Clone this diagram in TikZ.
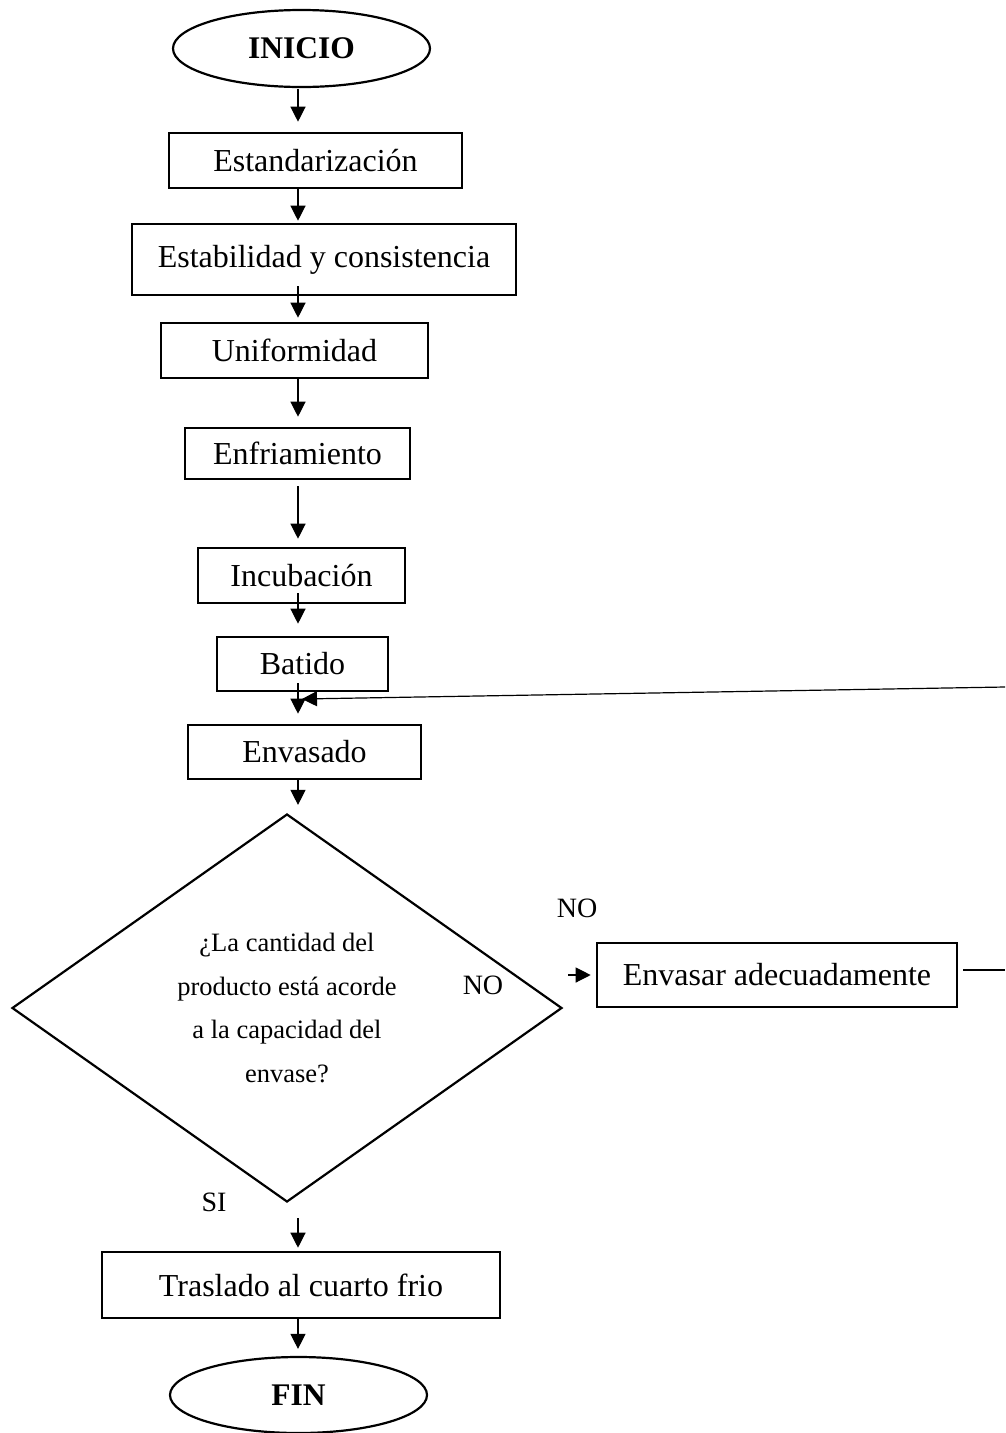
\documentclass[tikz,border=0pt]{standalone}
\usepackage{fontspec}
\setmainfont{Liberation Serif}
\usetikzlibrary{arrows.meta,shapes.geometric}

\tikzset{
  procbox/.style={draw, line width=2.6pt, inner sep=0pt,
    font=\fontsize{32}{38}\selectfont},
  termnode/.style={ellipse, draw, line width=2.2pt, inner sep=0pt,
    font=\fontsize{31.5}{37}\selectfont\bfseries},
  decision/.style={diamond, draw, line width=2.2pt, inner sep=0pt,
    shape aspect=1.42, align=center,
    font=\fontsize{26.5}{43.5}\selectfont},
  lbl/.style={inner sep=0pt, font=\fontsize{28}{33}\selectfont},
  flow/.style={line width=1.2pt, -{Triangle[width=15pt,length=15pt]}},
  plain/.style={line width=1.2pt}
}

\begin{document}
\begin{tikzpicture}[x=1pt, y=-1pt]
  % page frame
  \fill[white] (0,0) rectangle (1005,1433);
  \useasboundingbox (0,0) rectangle (1005,1433);

  % main column
  \node[termnode, minimum width=257pt, minimum height=77pt] (inicio) at (301.5,48.5) {INICIO};
  \node[procbox, minimum width=293pt, minimum height=55pt] (estand) at (315.5,160.5) {Estandarización};
  \node[procbox, minimum width=384pt, minimum height=71pt] (estab) at (324,259.5) {Estabilidad y consistencia};
  \node[procbox, minimum width=267pt, minimum height=55pt] (unif) at (294.5,350.5) {Uniformidad};
  \node[procbox, minimum width=225pt, minimum height=51pt] (enfr) at (297.5,453.5) {Enfriamiento};
  \node[procbox, minimum width=207pt, minimum height=55pt] (incub) at (301.5,575.5) {Incubación};
  \node[procbox, minimum width=171pt, minimum height=54pt] (batido) at (302.5,664) {Batido};
  \node[procbox, minimum width=233pt, minimum height=54pt] (envas) at (304.5,752) {Envasado};
  \node[decision, minimum width=550pt, minimum height=388pt] (dec) at (287,1008)
    {¿La cantidad del\\producto está acorde\\a la capacidad del\\envase?};
  \node[procbox, minimum width=360pt, minimum height=64pt] (envasar) at (777,975) {Envasar adecuadamente};
  \node[procbox, minimum width=398pt, minimum height=66pt] (trasl) at (301,1285) {Traslado al cuarto frio};
  \node[termnode, minimum width=257pt, minimum height=76pt] (fin) at (298.5,1395) {FIN};

  % branch labels
  \node[lbl] (noIn) at (483,985) {NO};
  \node[lbl] (noUp) at (577,908) {NO};
  \node[lbl] (si) at (214,1202) {SI};

  % column axis for the vertical connectors
  \coordinate (ax) at (298,0);

  \draw[flow, shorten <=1pt, shorten >=10pt] (inicio.south -| ax) -- (estand.north -| ax);
  \draw[flow, shorten <=0pt, shorten >=2pt] (estand.south -| ax) -- (estab.north -| ax);
  \draw[flow, shorten <=-10pt, shorten >=4pt] (estab.south -| ax) -- (unif.north -| ax);
  \draw[flow, shorten <=0pt, shorten >=10pt] (unif.south -| ax) -- (enfr.north -| ax);
  \draw[flow, shorten <=6pt, shorten >=8pt] (enfr.south -| ax) -- (incub.north -| ax);
  \draw[flow, shorten <=-11pt, shorten >=12pt] (incub.south -| ax) -- (batido.north -| ax);
  \draw[flow, shorten <=-9pt, shorten >=10pt] (batido.south -| ax) -- (envas.north -| ax);
  \draw[flow, shorten <=0pt, shorten >=8pt] (envas.south -| ax) -- (dec.north -| ax);
  \draw[flow, shorten <=15pt, shorten >=3pt] (dec.south -| ax) -- (trasl.north -| ax);
  \draw[flow, shorten <=-1pt, shorten >=7pt] (trasl.south -| ax) -- (fin.north -| ax);

  % NO branch and return line
  \coordinate (noStart) at (568,975);
  \draw[flow, shorten >=5pt] (noStart) -- (envasar.west);
  \coordinate (edgeLow) at (1005,970);
  \draw[plain, shorten <=5pt] (envasar.east |- edgeLow) -- (edgeLow);
  \coordinate (edgeHigh) at (1005,687);
  \coordinate (join) at (302,699);
  \draw[flow] (edgeHigh) -- (join);
\end{tikzpicture}
\end{document}
